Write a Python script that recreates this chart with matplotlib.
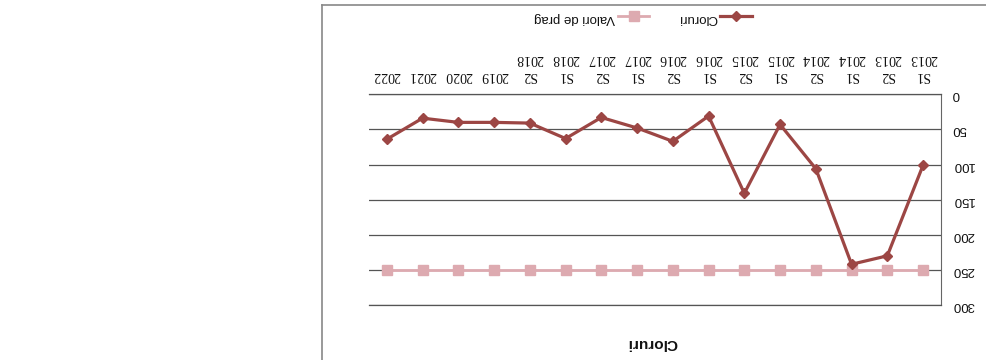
import numpy as np
import matplotlib
matplotlib.use("Agg")
import matplotlib.pyplot as plt
from matplotlib.lines import Line2D

# data (chart is scanned upside down, so everything is drawn rotated 180 degrees)
categories = ['S1\n2013', 'S2\n2013', 'S1\n2014', 'S2\n2014', 'S1\n2015', 'S2\n2015',
              'S1\n2016', 'S2\n2016', 'S1\n2017', 'S2\n2017', 'S1\n2018', 'S2\n2018',
              '2019', '2020', '2021', '2022']
cloruri = [101, 230, 242, 106, 43, 141, 31, 67, 48, 33, 63, 41, 40, 40, 34, 64]
valori_prag = [250] * 16
y_ticks = [0, 50, 100, 150, 200, 250, 300]

plt.rcParams['font.family'] = ['Liberation Sans', 'DejaVu Sans']

fig = plt.figure(figsize=(9.86, 3.6), dpi=100)
ax = fig.add_axes([0.3742, 0.1528, 0.5801, 0.5853])

x = np.arange(len(categories))
l_prag, = ax.plot(x, valori_prag, color='#ddaab0', lw=2, marker='s', ms=7,
                  label='Valori de prag', zorder=3)
l_clor, = ax.plot(x, cloruri, color='#9c4644', lw=2.3, marker='D', ms=5,
                  label='Cloruri', zorder=4)

# flipped axes
ax.set_xlim(len(categories) - 0.5, -0.5)
ax.set_ylim(300, 0)

ax.set_yticks(y_ticks)
ax.yaxis.tick_right()
ax.tick_params(axis='y', length=0, pad=8, labelsize=9.5, labelcolor='#111111')
for t in ax.get_yticklabels():
    t.set_rotation(180)
    t.set_verticalalignment('center')

ax.set_xticks(x)
ax.set_xticklabels(categories, family='Liberation Serif', fontsize=10,
                   linespacing=1.35, color='#111111')
ax.xaxis.tick_top()
ax.tick_params(axis='x', length=0, pad=9)
for t in ax.get_xticklabels():
    t.set_rotation(180)
    t.set_multialignment('center')

ax.grid(axis='y', color='#555555', lw=0.9)
ax.set_axisbelow(True)
ax.spines['left'].set_visible(False)
ax.spines['right'].set_color('#666666')
for s in ['top', 'bottom']:
    ax.spines[s].set_color('#555555')
    ax.spines[s].set_linewidth(0.9)

# legend
leg = fig.legend(handles=[l_prag, l_clor], loc='center', bbox_to_anchor=(0.652, 0.95),
                 ncol=2, markerfirst=False, frameon=False, fontsize=9.5,
                 handlelength=2.4, columnspacing=2.2, handletextpad=0.2)
for t in leg.get_texts():
    t.set_rotation(180)
    t.set_color('#111111')

fig.text(0.661, 0.047, 'Cloruri', rotation=180, ha='center', va='center',
         fontsize=11, fontweight='bold', color='#111111')

# outer chart border (partly visible)
fig.add_artist(Line2D([0.3266, 0.3266], [0.0, 0.986], transform=fig.transFigure,
                      color='#888888', lw=1.2))
fig.add_artist(Line2D([0.3266, 1.0], [0.986, 0.986], transform=fig.transFigure,
                      color='#888888', lw=1.2))

fig.savefig('out.png', dpi=100)
